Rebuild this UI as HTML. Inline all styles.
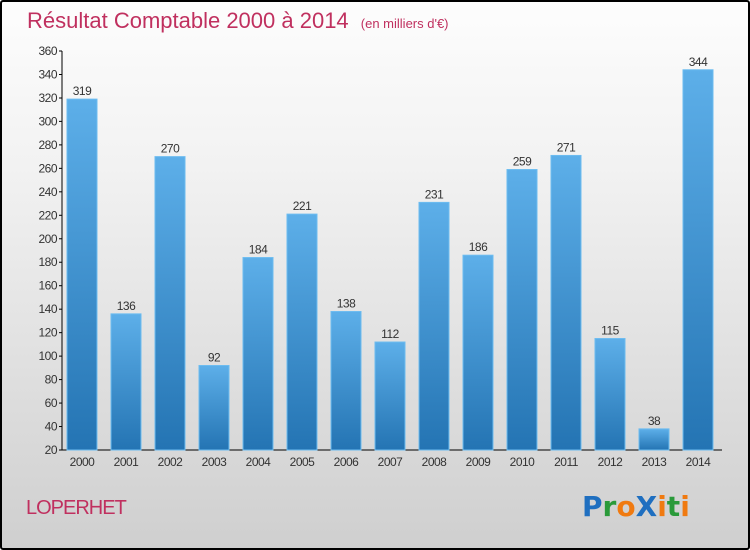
<!DOCTYPE html>
<html><head><meta charset="utf-8"><style>
body{margin:0}
#wrap{width:750px;height:550px;box-sizing:border-box;border:2px solid #000;border-radius:3px;background:linear-gradient(#fdfdfd,#f2f2f2 30%,#cfcfcf);position:relative;overflow:hidden;font-family:"Liberation Sans",sans-serif}
</style></head><body>
<div id="wrap">
<svg width="750" height="550" style="position:absolute;left:-2px;top:-2px">
<defs><linearGradient id="bg" x1="0" y1="0" x2="0" y2="1"><stop offset="0" stop-color="#5dafe9"/><stop offset="1" stop-color="#2474b3"/></linearGradient></defs>
<text x="27" y="28" font-size="22" fill="#c0305f">Résultat Comptable 2000 à 2014 <tspan font-size="13" dx="6">(en milliers d'€)</tspan></text>
<g id="axes"></g><g id="bars"></g>
<text x="26" y="514" font-size="20" fill="#c0305f" letter-spacing="-1">LOPERHET</text>
<text x="582" y="516" font-size="28" font-weight="bold" font-family="DejaVu Sans, sans-serif"><tspan fill="#1f6fc0">P</tspan><tspan fill="#2a9a3a">r</tspan><tspan fill="#f07a10">o</tspan><tspan fill="#1f6fc0">X</tspan><tspan fill="#f07a10">i</tspan><tspan fill="#2a9a3a">t</tspan><tspan fill="#f07a10">i</tspan></text>
</svg></div>
<script>
const categories=["2000","2001","2002","2003","2004","2005","2006","2007","2008","2009","2010","2011","2012","2013","2014"];
const values=[319,136,270,92,184,221,138,112,231,186,259,271,115,38,344];
const ticks=[20,40,60,80,100,120,140,160,180,200,220,240,260,280,300,320,340,360];
const NS="http://www.w3.org/2000/svg";
const y0=450,y1=51,vmin=20,vmax=360;
const y=v=>y0-(v-vmin)/(vmax-vmin)*(y0-y1);
const x=i=>82+i*44;
function mk(t,a,p){const e=document.createElementNS(NS,t);for(const k in a)e.setAttribute(k,a[k]);p.appendChild(e);return e;}
const ax=document.getElementById('axes'),bs=document.getElementById('bars');
const yl=mk('line',{x1:62,y1:y1,x2:62,y2:y0,stroke:'#000'},ax);


const xl=mk('line',{x1:62,y1:y0,x2:722,y2:y0,stroke:'#000'},ax);


ticks.forEach(t=>{mk('line',{x1:59,x2:62,y1:y(t),y2:y(t),stroke:'#000'},ax);
const tx=mk('text',{x:57,y:y(t)+4,'font-size':12,'text-anchor':'end',fill:'#333','letter-spacing':'-0.5'},ax);tx.textContent=t;

});
categories.forEach((c,i)=>{
const r=mk('rect',{x:x(i)-15,y:y(values[i]),width:30,height:y0-y(values[i]),fill:'url(#bg)',stroke:'#6cbcf0','stroke-width':1},bs);


const v=mk('text',{x:x(i),y:y(values[i])-4,'font-size':12,'text-anchor':'middle',fill:'#333','letter-spacing':'-0.5'},bs);v.textContent=values[i];


const l=mk('text',{x:x(i),y:466,'font-size':12,'text-anchor':'middle',fill:'#333','letter-spacing':'-0.5'},bs);l.textContent=c;

});
</script></body></html>
